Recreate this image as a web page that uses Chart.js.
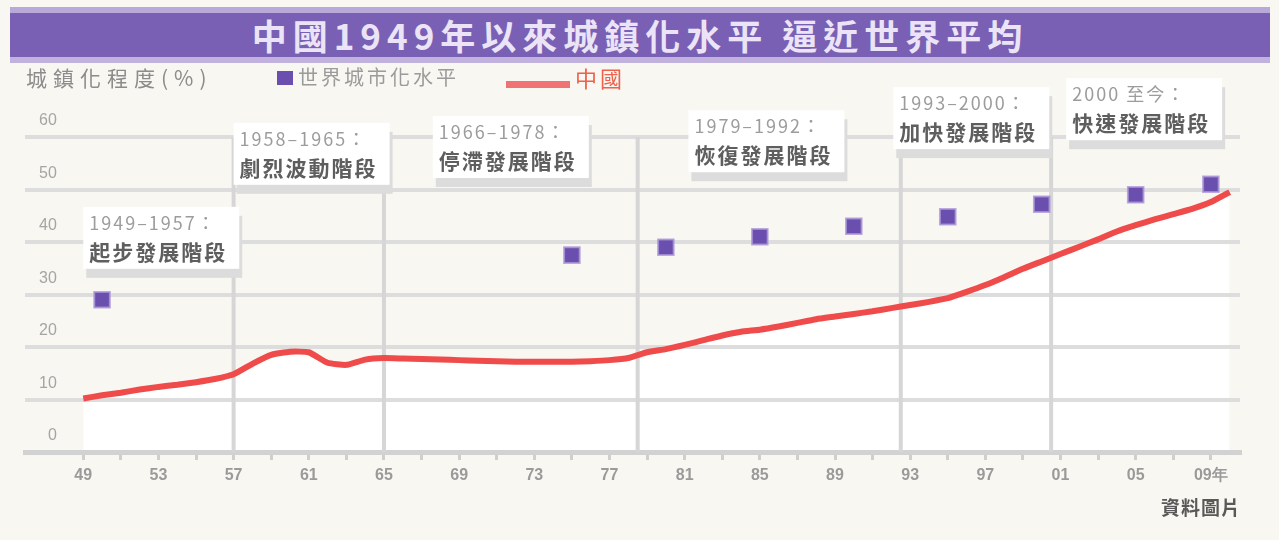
<!DOCTYPE html>
<html>
<head>
<meta charset="utf-8">
<script src="https://cdn.jsdelivr.net/npm/chart.js@4.4.1/dist/chart.umd.min.js"></script>
<style>
  body { margin: 0; background: #f8f7f2; font-family: "Noto Sans CJK TC", "Noto Sans", sans-serif; }
  #wrap { position: relative; width: 1279px; height: 540px; overflow: hidden; }
  #title { position: absolute; left: 10px; top: 7px; width: 1260px; height: 44px; background: #7a60b4;
    border-top: 6px solid #b9a9da; border-bottom: 6px solid #c0b2dd; color: #ebe4f7; font-size: 35px;
    font-weight: bold; text-align: center; line-height: 44px; letter-spacing: 6px; z-index: 2; }
  .leg { position: absolute; top: 64px; font-size: 20px; line-height: 26px; letter-spacing: 3px; z-index: 2; }
  #yname { left: 26px; color: #8c8c8c; font-size: 21px; letter-spacing: 6px; }
  #worldKey { left: 277px; top: 71px; width: 16px; height: 14px; background: #6b4fae; position: absolute; }
  #worldName { left: 298px; color: #9b9b9b; }
  #chinaKey { left: 506px; top: 81px; width: 64px; height: 7px; background: #f07272; position: absolute; }
  #chinaName { left: 575px; color: #f0604c; font-size: 22px; }
  #source { position: absolute; right: 38px; top: 493px; font-size: 19px; font-weight: bold; color: #595959; letter-spacing: 1px; z-index: 2; }
  #box { position: absolute; left: 0; top: 0; width: 1279px; height: 540px; z-index: 1; }
</style>
</head>
<body>
<div id="wrap">
  <div id="title">中國1949年以來城鎮化水平 逼近世界平均</div>
  <div class="leg" id="yname">城鎮化程度(%)</div>
  <div id="worldKey"></div>
  <div class="leg" id="worldName">世界城市化水平</div>
  <div id="chinaKey"></div>
  <div class="leg" id="chinaName">中國</div>
  <div id="source">資料圖片</div>
  <div id="box"><canvas id="urban_chart"></canvas></div>
</div>
<script>
// China urbanisation rate by year (%)
const years = [1949, 1950, 1951, 1952, 1953, 1954, 1955, 1956, 1957, 1958, 1959, 1960, 1961, 1962, 1963, 1964,
  1965, 1966, 1967, 1968, 1969, 1970, 1971, 1972, 1973, 1974, 1975, 1976, 1977, 1978, 1979, 1980,
  1981, 1982, 1983, 1984, 1985, 1986, 1987, 1988, 1989, 1990, 1991, 1992, 1993, 1994, 1995, 1996,
  1997, 1998, 1999, 2000, 2001, 2002, 2003, 2004, 2005, 2006, 2007, 2008, 2009, 2010];
const chinaRate = [10.2, 10.8, 11.3, 11.9, 12.4, 12.8, 13.3, 13.9, 14.8, 16.8, 18.5, 19.1, 19.0, 17.0, 16.6, 17.6,
  17.9, 17.8, 17.7, 17.6, 17.5, 17.4, 17.3, 17.2, 17.2, 17.2, 17.2, 17.3, 17.5, 17.9, 19.0, 19.6,
  20.4, 21.3, 22.2, 22.9, 23.3, 23.9, 24.6, 25.3, 25.8, 26.3, 26.8, 27.4, 28.0, 28.6, 29.3, 30.5,
  31.8, 33.3, 34.9, 36.3, 37.7, 39.1, 40.5, 42.0, 43.2, 44.3, 45.3, 46.3, 47.6, 49.5];

// world urbanisation level (%)
const worldYears = [1950, 1975, 1980, 1985, 1990, 1995, 2000, 2005, 2009];
const worldRate = [29, 37.5, 39, 41, 43, 44.8, 47.2, 49, 51];

const yTicks = [0, 10, 20, 30, 40, 50, 60];
const xTickYears = [1949, 1953, 1957, 1961, 1965, 1969, 1973, 1977, 1981, 1985, 1989, 1993, 1997, 2001, 2005, 2009];
const xTickLabels = ['49', '53', '57', '61', '65', '69', '73', '77', '81', '85', '89', '93', '97', '01', '05', '09年'];

// development phases
const phaseBounds = [1957, 1965, 1978.5, 1992.5, 2000.5];
const phaseRanges = ['1949–1957：', '1958–1965：', '1966–1978：', '1979–1992：', '1993–2000：', '2000 至今：'];
const phaseNames = ['起步發展階段', '劇烈波動階段', '停滯發展階段', '恢復發展階段', '加快發展階段', '快速發展階段'];

const phasePlugin = {
    id: 'phases',
    beforeDatasetsDraw(chart) {
        const {ctx, chartArea, scales: {x}} = chart;
        ctx.save();
        ctx.strokeStyle = '#d6d6d6';
        ctx.lineWidth = 4;
        phaseBounds.forEach(b => {
            const px = x.getPixelForValue(b);
            ctx.beginPath();
            ctx.moveTo(px, chartArea.top);
            ctx.lineTo(px, chartArea.bottom);
            ctx.stroke();
        });
        ctx.restore();
    },
    afterDatasetsDraw(chart) {
        const {ctx, scales: {x, y}} = chart;
        // box anchors: [year, percent] of the top-left corner
        const anchors = [[1949.0, 46.7], [1957.0, 62.7], [1967.6, 64], [1981.2, 65.1], [1992.1, 69.5], [2001.3, 71.2]];
        const w = 156, h = 62;
        ctx.save();
        anchors.forEach((a, i) => {
            const left = x.getPixelForValue(a[0]);
            const top = y.getPixelForValue(a[1]);
            ctx.fillStyle = '#dcdcdc';
            ctx.fillRect(left + 3, top + 9, w, h);
            ctx.fillStyle = '#ffffff';
            ctx.fillRect(left, top, w, h);
            ctx.textBaseline = 'middle';
            ctx.textAlign = 'left';
            ctx.letterSpacing = '2px';
            ctx.fillStyle = '#9c9c9c';
            ctx.font = '18px "Noto Sans CJK TC", sans-serif';
            ctx.fillText(phaseRanges[i], left + 6, top + 16);
            ctx.fillStyle = '#5e5e5e';
            ctx.font = 'bold 21px "Noto Sans CJK TC", sans-serif';
            ctx.fillText(phaseNames[i], left + 6, top + 45);
        });
        ctx.restore();
    }
};

(function urban_chart()
{
    const el = document.getElementById('urban_chart');
    new Chart(el, {
        type: 'line',
        data: {
            datasets: [{
                label: '中國',
                data: years.map((yr, i) => ({x: yr, y: chinaRate[i]})),
                borderColor: '#ef4b4b',
                borderWidth: 6,
                pointRadius: 0,
                tension: 0.15,
                fill: 'origin',
                backgroundColor: '#ffffff',
                order: 2
            }, {
                label: '世界城市化水平',
                data: worldYears.map((yr, i) => ({x: yr, y: worldRate[i]})),
                showLine: false,
                pointStyle: 'rect',
                pointRadius: 11,
                backgroundColor: '#6b4fae',
                borderColor: 'rgba(170,150,215,0.8)',
                borderWidth: 2,
                order: 1
            }]
        },
        options: {
            animation: false,
            responsive: true,
            maintainAspectRatio: false,
            layout: { padding: { top: 137, left: 25, right: 39, bottom: 18 } },
            plugins: {
                legend: { display: false },
                tooltip: { enabled: false },
                filler: { drawTime: 'beforeDraw' }
            },
            scales: {
                x: {
                    type: 'linear',
                    min: 1945.9,
                    max: 2010.55,
                    afterBuildTicks: s => {
                        const t = [];
                        xTickYears.forEach((yr, i) => {
                            t.push({value: yr});
                            if (i < xTickYears.length - 1) t.push({value: yr + 2});
                        });
                        s.ticks = t;
                    },
                    afterFit: s => { s.height = 70; },
                    grid: { drawOnChartArea: false, drawTicks: true, tickLength: 8, color: '#cfcfcf', lineWidth: 3 },
                    border: { display: true, color: '#d2d2d2', width: 5 },
                    ticks: {
                        autoSkip: false,
                        maxRotation: 0,
                        padding: 6,
                        color: '#9a9a9a',
                        font: { size: 16, weight: 'bold' },
                        callback: v => {
                            const i = xTickYears.indexOf(v);
                            return i >= 0 ? xTickLabels[i] : '';
                        }
                    }
                },
                y: {
                    min: 0,
                    max: 60,
                    afterBuildTicks: s => { s.ticks = yTicks.map(v => ({value: v})); },
                    afterFit: s => { s.width = 0; },
                    grid: { color: '#dddddd', lineWidth: 4, drawTicks: false },
                    border: { display: false },
                    ticks: {
                        mirror: true,
                        crossAlign: 'far',
                        padding: 14,
                        labelOffset: -16,
                        color: '#a5a5a5',
                        font: { size: 16 }
                    }
                }
            }
        },
        plugins: [phasePlugin]
    });
})();
</script>
</body>
</html>
